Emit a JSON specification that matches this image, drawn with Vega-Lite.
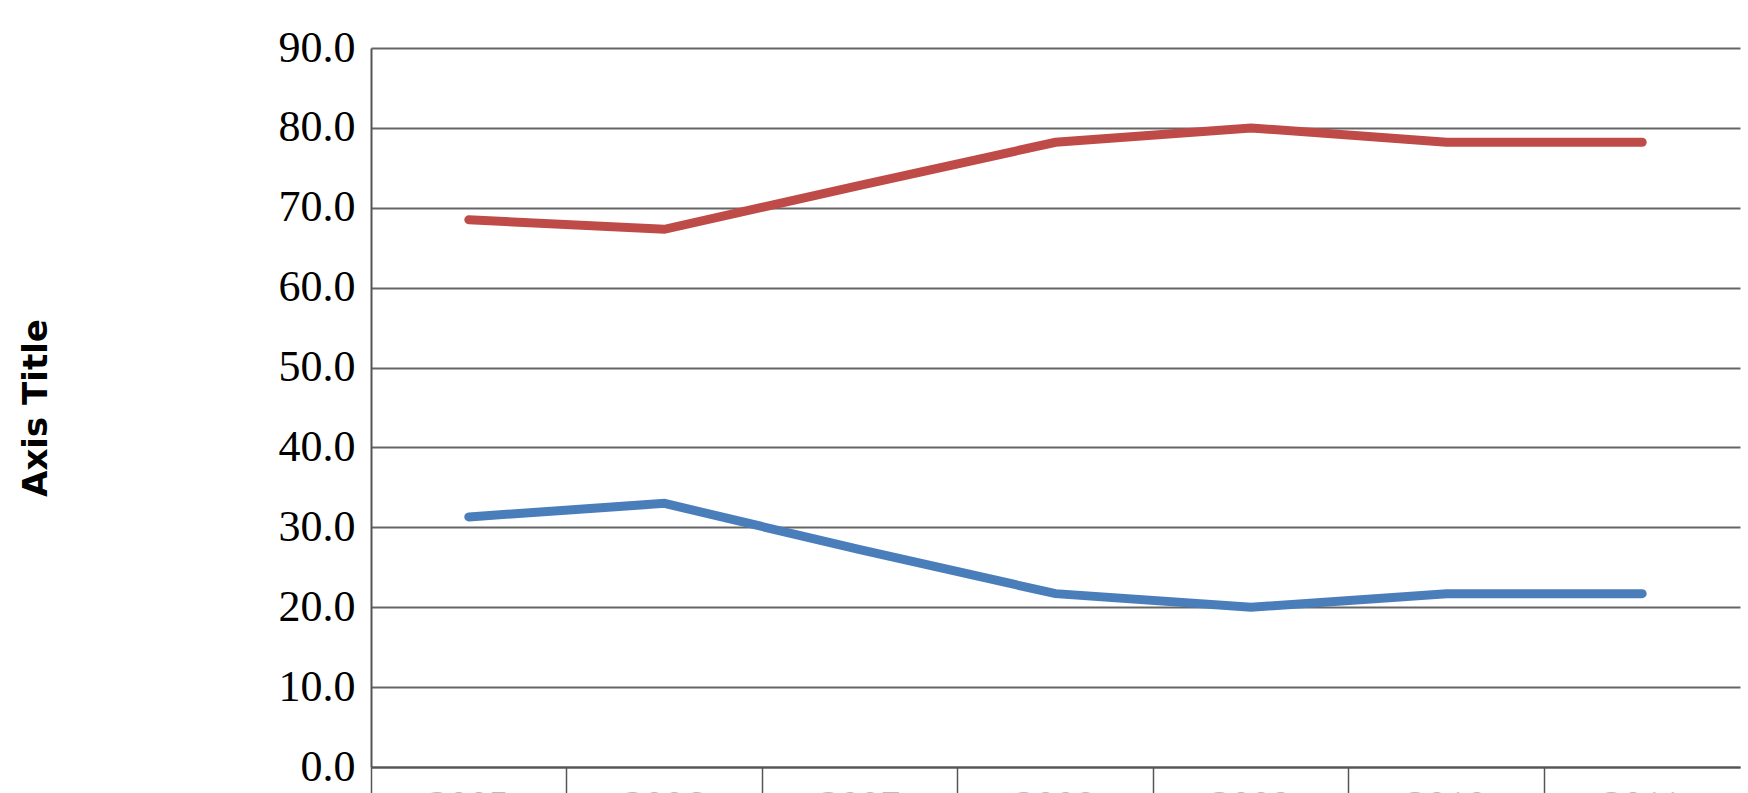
{
  "$schema": "https://vega.github.io/schema/vega-lite/v6.json",
  "autosize": "none",
  "width": 1369,
  "height": 719,
  "padding": {"left": 371, "top": 48, "right": 8, "bottom": 26},
  "background": "white",
  "data": {
    "values": [
      {"cat": "2005", "series": "A", "value": 68.5},
      {"cat": "2006", "series": "A", "value": 67.3},
      {"cat": "2007", "series": "A", "value": 72.8},
      {"cat": "2008", "series": "A", "value": 78.2},
      {"cat": "2009", "series": "A", "value": 80.0},
      {"cat": "2010", "series": "A", "value": 78.2},
      {"cat": "2011", "series": "A", "value": 78.2},
      {"cat": "2005", "series": "B", "value": 31.3},
      {"cat": "2006", "series": "B", "value": 33.0},
      {"cat": "2007", "series": "B", "value": 27.2},
      {"cat": "2008", "series": "B", "value": 21.7},
      {"cat": "2009", "series": "B", "value": 20.0},
      {"cat": "2010", "series": "B", "value": 21.7},
      {"cat": "2011", "series": "B", "value": 21.7}
    ]
  },
  "mark": {"type": "line", "strokeWidth": 9, "strokeCap": "round"},
  "encoding": {
    "x": {
      "field": "cat",
      "type": "ordinal",
      "scale": {"type": "band", "paddingInner": 0, "paddingOuter": 0},
      "axis": {
        "title": null,
        "bandPosition": 0,
        "domain": true,
        "domainColor": "#555",
        "domainWidth": 2,
        "ticks": true,
        "tickColor": "#555",
        "tickSize": 30,
        "tickWidth": 1.5,
        "labelAngle": 0,
        "labelAlign": "center",
        "labelFont": "Liberation Serif",
        "labelFontSize": 40,
        "labelColor": "#bbb",
        "labelPadding": -12,
        "grid": false
      }
    },
    "y": {
      "field": "value",
      "type": "quantitative",
      "scale": {"domain": [0, 90]},
      "axis": {
        "title": "Axis Title",
        "titleFont": "DejaVu Sans",
        "titleFontSize": 34,
        "titleFontWeight": "bold",
        "titleColor": "#000",
        "titlePadding": 225,
        "values": [0, 10, 20, 30, 40, 50, 60, 70, 80, 90],
        "format": ".1f",
        "labelFont": "Liberation Serif",
        "labelFontSize": 44,
        "labelColor": "#000",
        "labelPadding": 16,
        "ticks": false,
        "domain": true,
        "domainColor": "#555",
        "domainWidth": 2,
        "grid": true,
        "gridColor": "#666",
        "gridWidth": 2
      }
    },
    "color": {
      "field": "series",
      "type": "nominal",
      "scale": {"domain": ["A", "B"], "range": ["#BE4B48", "#4A7EBB"]},
      "legend": null
    }
  },
  "config": {"view": {"stroke": null}}
}
